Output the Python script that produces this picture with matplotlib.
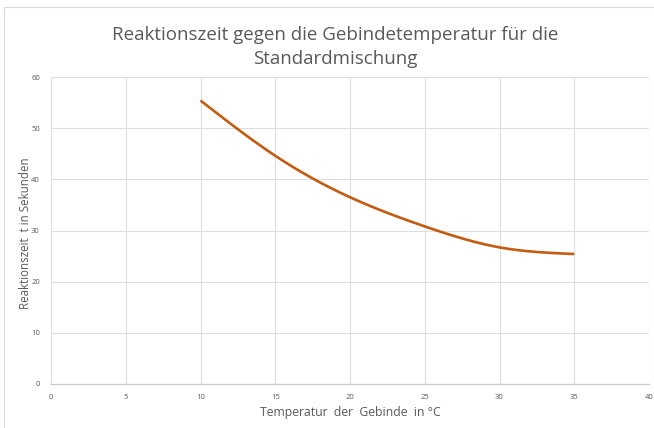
import matplotlib
matplotlib.use('Agg')
import matplotlib.pyplot as plt
import numpy as np

temperatur = [10, 15, 20, 25, 30, 35]
reaktionszeit = [55.4, 44.6, 36.5, 30.8, 26.7, 25.4]

titel = 'Reaktionszeit gegen die Gebindetemperatur für die\nStandardmischung'
x_label = 'Temperatur  der  Gebinde  in °C'
y_label = 'Reaktionszeit  t in Sekunden'

grau = '#595959'
linie = '#C55A11'


def glatt(x, y, n=200):
    # natuerlicher kubischer Spline fuer die geglaettete Linie
    x = np.asarray(x, float)
    y = np.asarray(y, float)
    k = len(x)
    h = np.diff(x)
    A = np.zeros((k, k))
    b = np.zeros(k)
    A[0, 0] = A[-1, -1] = 1
    for i in range(1, k - 1):
        A[i, i - 1] = h[i - 1]
        A[i, i] = 2 * (h[i - 1] + h[i])
        A[i, i + 1] = h[i]
        b[i] = 6 * ((y[i + 1] - y[i]) / h[i] - (y[i] - y[i - 1]) / h[i - 1])
    m = np.linalg.solve(A, b)
    xs = np.linspace(x[0], x[-1], n)
    j = np.clip(np.searchsorted(x, xs) - 1, 0, k - 2)
    t = xs - x[j]
    hj = h[j]
    ys = (m[j] * (x[j + 1] - xs) ** 3 / (6 * hj) + m[j + 1] * t ** 3 / (6 * hj)
          + (y[j] / hj - m[j] * hj / 6) * (x[j + 1] - xs)
          + (y[j + 1] / hj - m[j + 1] * hj / 6) * t)
    return xs, ys


plt.rcParams['font.family'] = ['Open Sans', 'DejaVu Sans']

fig = plt.figure(figsize=(6.54, 4.28), dpi=100)
ax = fig.add_axes([51 / 654, 44 / 428, 598 / 654, 307 / 428])

xs, ys = glatt(temperatur, reaktionszeit)
ax.plot(xs, ys, color=linie, lw=1.9, solid_capstyle='butt', zorder=3)

ax.set_xlim(0, 40)
ax.set_ylim(0, 60)
ax.set_xticks(np.arange(0, 41, 5))
ax.set_yticks(np.arange(0, 61, 10))
ax.grid(True, color='#dedede', lw=0.8)
ax.set_axisbelow(True)
for s in ['top', 'right', 'left']:
    ax.spines[s].set_visible(False)
ax.spines['bottom'].set_color('#c8c8c8')
ax.spines['bottom'].set_linewidth(0.9)
ax.tick_params(length=0, labelsize=5.5, labelcolor=grau, pad=7)
ax.tick_params(axis='y', pad=8)

ax.set_xlabel(x_label, fontsize=8.8, color=grau, labelpad=4)
ax.set_ylabel(y_label, fontsize=8.3, color=grau)
ax.yaxis.set_label_coords(-0.032, 0.49)

fig.text(0.512, 0.94, titel, ha='center', va='top', fontsize=13.5,
         color=grau, linespacing=1.45)

# Rahmen des Diagrammbereichs (rechts/unten abgeschnitten)
rahmen = plt.Rectangle((4 / 654, -0.1), 1.2, 1.1 - 7 / 428,
                       transform=fig.transFigure, fill=False,
                       edgecolor='#d9d9d9', lw=0.8)
fig.patches.append(rahmen)

fig.savefig('out.png', dpi=100)
